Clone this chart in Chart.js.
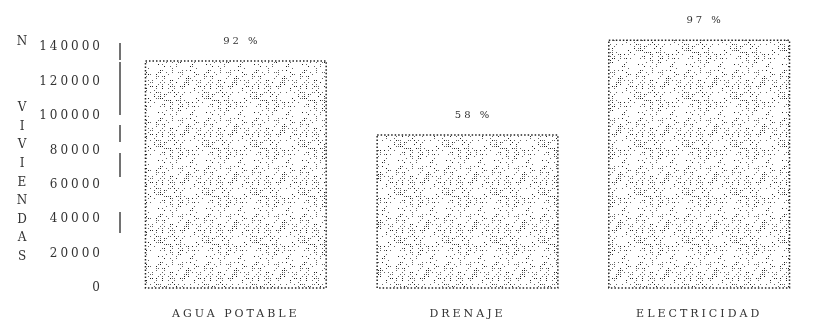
<!DOCTYPE html>
<html lang="es">
<head>
  <meta charset="UTF-8" />
  <title>Servicios en viviendas</title>
  <script src="https://cdn.jsdelivr.net/npm/chart.js"></script>
  <style>
    html, body { margin: 0; padding: 0; background: #fff; }
    #wrap { width: 815px; height: 321px; position: relative; }
  </style>
</head>
<body>
  <div id="wrap"><canvas id="chart"></canvas></div>

  <script>
    // datos
    const categorias = ['AGUA POTABLE', 'DRENAJE', 'ELECTRICIDAD'];
    const viviendas = [132000, 89000, 144000];
    const porcentajes = ['92 %', '58 %', '97 %'];
    const yTicks = [0, 20000, 40000, 60000, 80000, 100000, 120000, 140000];
    const tituloArriba = 'N';
    const tituloEje = ['V', 'I', 'V', 'I', 'E', 'N', 'D', 'A', 'S'];

    const serif = '"DejaVu Serif", "Liberation Serif", serif';
    const ejeDash = [0, 13, 17, 2, 53, 10, 17, 11, 24, 35, 21, 200];

    // trama punteada del relleno (deterministica)
    function makePattern() {
      const c = document.createElement('canvas');
      c.width = 48; c.height = 48;
      const g = c.getContext('2d');
      g.fillStyle = '#fff';
      g.fillRect(0, 0, 48, 48);
      for (let y = 0; y < 48; y += 2) {
        for (let x = 0; x < 48; x += 2) {
          const h = Math.sin(x * 12.9898 + y * 78.233) * 43758.5453;
          const f = h - Math.floor(h);
          if (f > 0.72) {
            g.fillStyle = f > 0.9 ? '#222' : '#666';
            g.fillRect(x, y, 1, 1);
          }
        }
      }
      return g.createPattern(c, 'repeat');
    }

    const spacing = {
      id: 'spacing',
      beforeUpdate(chart) { chart.ctx.letterSpacing = '3px'; },
      beforeDraw(chart) { chart.ctx.letterSpacing = '3px'; }
    };

    const extras = {
      id: 'extras',
      afterDatasetsDraw(chart) {
        const ctx = chart.ctx;
        const meta = chart.getDatasetMeta(0);
        const yScale = chart.scales.y;
        ctx.save();
        // eje vertical discontinuo
        ctx.strokeStyle = '#444';
        ctx.lineWidth = 1.5;
        ctx.setLineDash(ejeDash);
        ctx.beginPath();
        ctx.moveTo(yScale.right, chart.chartArea.top);
        ctx.lineTo(yScale.right, chart.chartArea.bottom);
        ctx.stroke();
        // contorno punteado
        ctx.strokeStyle = '#222';
        ctx.setLineDash([1.5, 2]);
        meta.data.forEach(bar => {
          const p = bar.getProps(['x', 'y', 'base', 'width'], true);
          ctx.strokeRect(p.x - p.width / 2, p.y, p.width, p.base - p.y);
        });
        ctx.setLineDash([]);
        // porcentajes
        ctx.fillStyle = '#333';
        ctx.font = '10px ' + serif;
        ctx.textAlign = 'center';
        ctx.textBaseline = 'middle';
        meta.data.forEach((bar, i) => {
          const p = bar.getProps(['x', 'y'], true);
          ctx.fillText(porcentajes[i], p.x + 6, p.y - 20);
        });
        // titulo vertical del eje
        ctx.font = '12px ' + serif;
        ctx.letterSpacing = '0px';
        ctx.fillText(tituloArriba, 22, yScale.getPixelForValue(140000) - 5);
        tituloEje.forEach((l, i) => {
          ctx.fillText(l, 22, 108 + i * 18.6);
        });
        ctx.restore();
      }
    };

    const ctx = document.getElementById('chart').getContext('2d');
    const chart = new Chart(ctx, {
      type: 'bar',
      data: {
        labels: categorias,
        datasets: [{
          data: viviendas,
          backgroundColor: makePattern(),
          borderWidth: 0,
          barPercentage: 0.78,
          categoryPercentage: 1
        }]
      },
      options: {
        responsive: true,
        maintainAspectRatio: false,
        animation: false,
        layout: { padding: { top: 30, left: 0, right: 0, bottom: 0 } },
        plugins: {
          legend: { display: false },
          tooltip: { enabled: false }
        },
        scales: {
          x: {
            afterFit(scale) { scale.height = 33; },
            grid: { display: false },
            border: { display: false },
            ticks: {
              color: '#333',
              padding: 12,
              maxRotation: 0,
              font: { family: serif, size: 11 }
            }
          },
          y: {
            min: 0,
            max: 150000,
            afterFit(scale) { scale.width = 120; },
            afterBuildTicks(scale) {
              scale.ticks = yTicks.map(v => ({ value: v }));
            },
            grid: { display: false },
            border: { display: false },
            ticks: {
              color: '#333',
              padding: 9,
              font: { family: serif, size: 12 },
              callback: v => String(v)
            }
          }
        }
      },
      plugins: [spacing, extras]
    });
  </script>
</body>
</html>
